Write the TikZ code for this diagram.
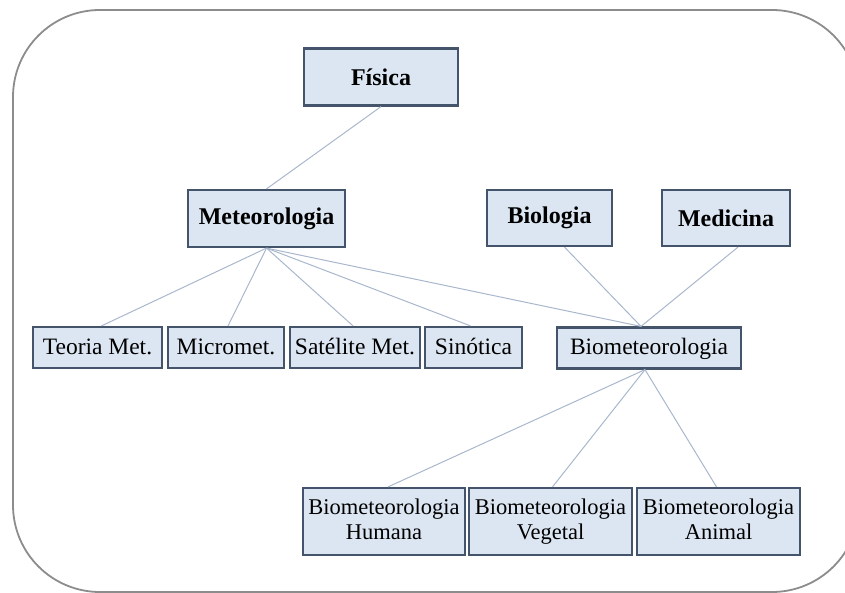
\documentclass[tikz,border=0pt]{standalone}
\usepackage{fontspec}
\setmainfont{Liberation Serif}
\definecolor{boxfill}{HTML}{DCE6F2}
\definecolor{boxline}{HTML}{44546A}
\definecolor{conn}{HTML}{A9B7CC}
\definecolor{frame}{HTML}{8C8C8C}
\newcommand\linestrut{\rule[-5pt]{0pt}{21pt}}
\begin{document}
\begin{tikzpicture}[x=1pt,y=-1pt,
  box/.style={draw=boxline,fill=boxfill,line width=2.2pt,inner sep=0pt,align=center,
    font=\fontsize{22.5}{25}\selectfont},
  midbox/.style={box,font=\fontsize{23.5}{25}\selectfont,text height=18pt,text depth=5pt},
  title/.style={box,font=\fontsize{24}{25}\selectfont\bfseries},
  link/.style={draw=conn,line width=1pt}]
\useasboundingbox (0,0) rectangle (845,593);
\draw[frame,line width=1.8pt,rounded corners=87pt] (13,10) rectangle (859,592);
\node[title,minimum width=154pt,minimum height=57pt] (fis) at (381,77) {Física};
\node[title,minimum width=157pt,minimum height=57pt] (met) at (266.5,218.5) {Meteorologia};
\node[title,minimum width=125pt,minimum height=56pt] (bio) at (549.5,218) {Biologia};
\node[title,minimum width=128pt,minimum height=56pt] (med) at (726,218) {Medicina};
\node[midbox,minimum width=129pt,minimum height=41pt] (teo) at (97.5,347.5) {Teoria Met.};
\node[midbox,minimum width=116pt,minimum height=41pt] (mic) at (226,347.5) {Micromet.};
\node[midbox,minimum width=130pt,minimum height=41pt] (sat) at (355,347.5) {Satélite Met.};
\node[midbox,minimum width=97pt,minimum height=41pt] (sin) at (473.5,347.5) {Sinótica};
\node[midbox,minimum width=184pt,minimum height=41pt] (bmt) at (649,348) {Biometeorologia};
\node[box,minimum width=162pt,minimum height=67pt] (hum) at (384,521.5) {Biometeorologia\linestrut\\Humana\linestrut};
\node[box,minimum width=163pt,minimum height=67pt] (veg) at (550.5,521.5) {Biometeorologia\linestrut\\Vegetal\linestrut};
\node[box,minimum width=163pt,minimum height=67pt] (ani) at (718.5,521.5) {Biometeorologia\linestrut\\Animal\linestrut};
\draw[link] (fis.south) -- (met.north);
\draw[link] (met.south) -- ([xshift=4pt]teo.north);
\draw[link] (met.south) -- ([xshift=2pt]mic.north);
\draw[link] (met.south) -- ([xshift=-2pt]sat.north);
\draw[link] (met.south) -- ([xshift=-3pt]sin.north);
\draw[link] (met.south) -- ([xshift=-8pt]bmt.north);
\draw[link] ([xshift=15pt]bio.south) -- ([xshift=-8pt]bmt.north);
\draw[link] ([xshift=12pt]med.south) -- ([xshift=-8pt]bmt.north);
\draw[link] ([xshift=-4pt]bmt.south) -- ([xshift=4pt]hum.north);
\draw[link] ([xshift=-4pt]bmt.south) -- ([xshift=2pt]veg.north);
\draw[link] ([xshift=-4pt]bmt.south) -- ([xshift=-2pt]ani.north);
\end{tikzpicture}
\end{document}
